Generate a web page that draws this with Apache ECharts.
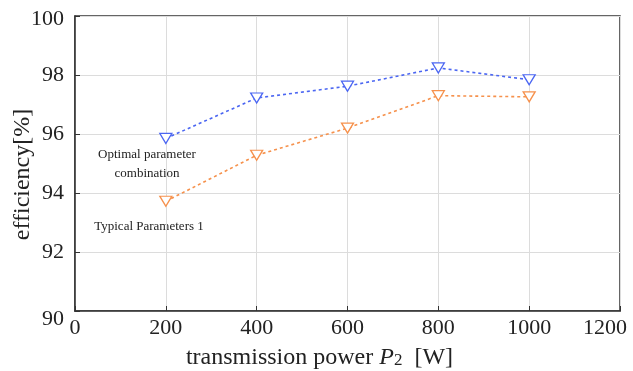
<!DOCTYPE html>
<html>
<head>
<meta charset="utf-8">
<script src="https://cdn.jsdelivr.net/npm/echarts@6/dist/echarts.min.js"></script>
<style>html,body{margin:0;padding:0;background:#fff}#c{width:633px;height:371px}</style>
</head>
<body>
<div id="c"></div>
<script>
var powers = [200, 400, 600, 800, 1000];
var optimalEff = [95.85, 97.22, 97.62, 98.24, 97.84];
var typicalEff = [93.72, 95.28, 96.2, 97.3, 97.26];
var xTicks = [0, 200, 400, 600, 800, 1000, 1200];
var yTicks = [90, 92, 94, 96, 98, 100];
var seriesNames = ['Optimal parameter\ncombination', 'Typical Parameters 1'];

var font = '"Liberation Serif", "Times New Roman", serif';
var chart = echarts.init(document.getElementById('c'));
function pairs(ys) { return powers.map(function (x, i) { return [x, ys[i]]; }); }
function mk(name, ys, color) {
  return {
    name: name, type: 'line', data: pairs(ys),
    symbol: 'triangle', symbolRotate: 180, symbolSize: [12, 10],
    lineStyle: { color: color, width: 1.6, type: [3, 3] },
    itemStyle: { color: '#fff', borderColor: color, borderWidth: 1.3 },
    z: 3
  };
}
var xMax = xTicks[xTicks.length - 1];
chart.setOption({
  animation: false,
  backgroundColor: '#fff',
  grid: { left: 75, right: 13, top: 16, bottom: 60, containLabel: false, outerBoundsMode: 'none',
          show: true, borderColor: '#333', borderWidth: 1.5 },
  xAxis: {
    type: 'value', min: xTicks[0], max: xMax, interval: 200,
    name: '{n|transmission power }{i|P}{s|2}{n|  [W]}', nameLocation: 'middle', nameGap: 35,
    nameMoveOverlap: false,
    nameTextStyle: { padding: [0, 56, 0, 0], rich: {
      n: { fontFamily: font, fontSize: 24, color: '#222' },
      i: { fontFamily: font, fontSize: 24, fontStyle: 'italic', color: '#222' },
      s: { fontFamily: font, fontSize: 17, color: '#222', padding: [6, 0, 0, 0] }
    } },
    axisLine: { lineStyle: { color: '#333', width: 1.5 } },
    axisTick: { inside: true, length: 5, lineStyle: { color: '#333' } },
    axisLabel: { fontFamily: font, fontSize: 22, color: '#222', margin: 6, hideOverlap: false,
      showMinLabel: true, showMaxLabel: true,
      formatter: function (v) { return v === xMax ? '{m|' + v + '}' : String(v); },
      rich: { m: { fontFamily: font, fontSize: 22, color: '#222', padding: [0, 30, 0, 0] } } },
    splitLine: { show: true, lineStyle: { color: '#dcdcdc', width: 1 } }
  },
  yAxis: {
    type: 'value', min: yTicks[0], max: yTicks[yTicks.length - 1], interval: 2,
    name: 'efficiency[%]', nameLocation: 'middle', nameGap: 40, nameMoveOverlap: false,
    nameTextStyle: { fontFamily: font, fontSize: 24, color: '#222', padding: [0, 22, 0, 0] },
    axisLine: { lineStyle: { color: '#333', width: 1.5 } },
    axisTick: { inside: true, length: 5, lineStyle: { color: '#333' } },
    axisLabel: { fontFamily: font, fontSize: 22, color: '#222', margin: 11,
      formatter: function (v) { return v === 90 ? '{d|90}' : v === 100 ? '{t|100}' : String(v); },
      rich: { d: { fontFamily: font, fontSize: 22, color: '#222', padding: [16, 0, 0, 0] },
              t: { fontFamily: font, fontSize: 22, color: '#222', padding: [6, 0, 0, 0] } } },
    splitLine: { show: true, lineStyle: { color: '#dcdcdc', width: 1 } }
  },
  series: [mk(seriesNames[0], optimalEff, '#4b66f2'), mk(seriesNames[1], typicalEff, '#f6914c')],
  graphic: [
    { type: 'text', x: 147, y: 155, style: { text: 'Optimal parameter', font: '13px ' + font, fill: '#222', align: 'center', verticalAlign: 'middle' } },
    { type: 'text', x: 147, y: 174, style: { text: 'combination', font: '13px ' + font, fill: '#222', align: 'center', verticalAlign: 'middle' } },
    { type: 'text', x: 149, y: 227, style: { text: 'Typical Parameters 1', font: '13px ' + font, fill: '#222', align: 'center', verticalAlign: 'middle' } }
  ]
});
</script>
</body>
</html>
